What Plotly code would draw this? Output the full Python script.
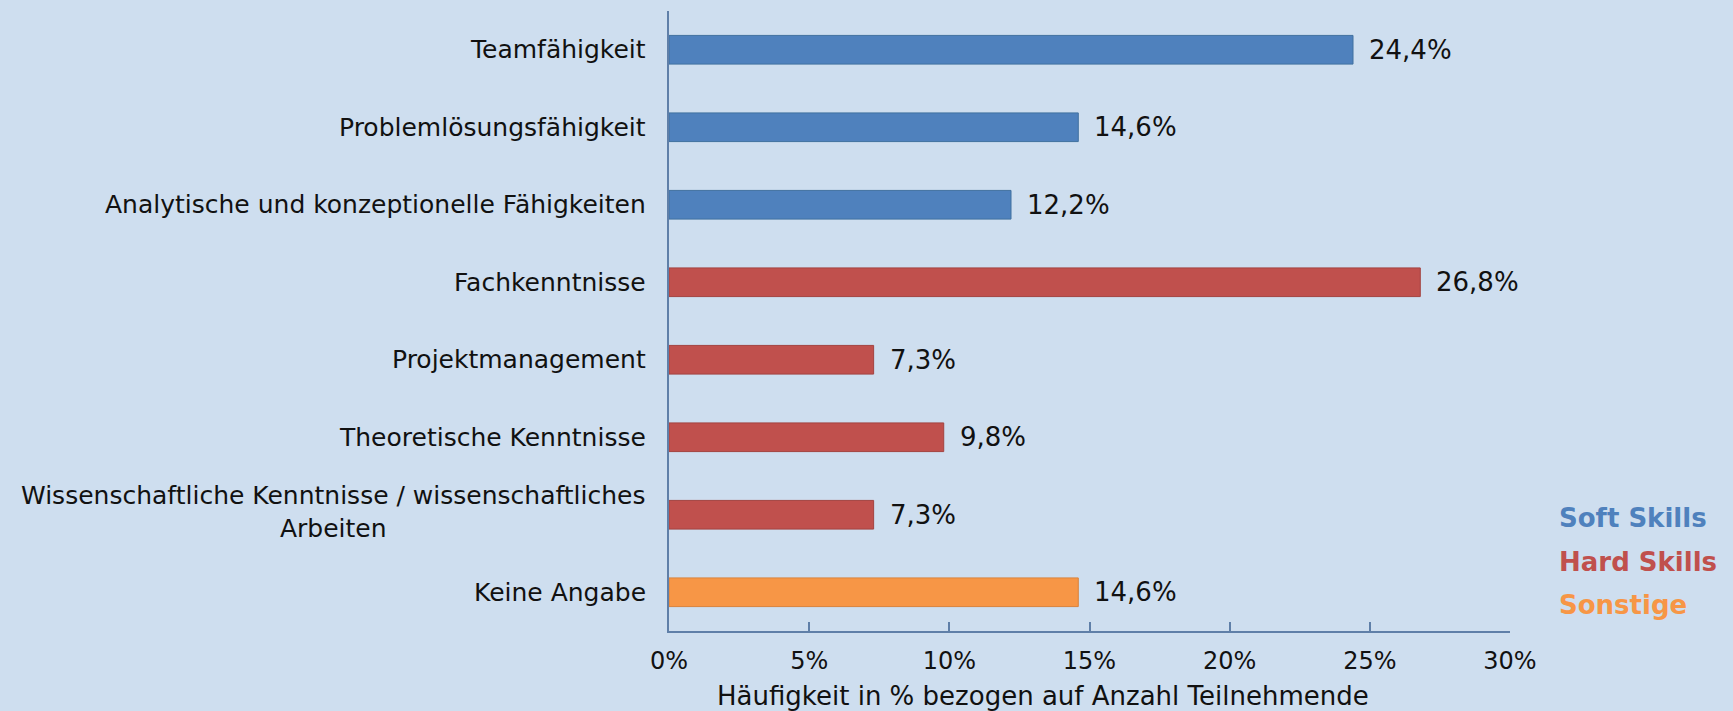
import plotly.graph_objects as go

categories = [
    "Teamfähigkeit",
    "Problemlösungsfähigkeit",
    "Analytische und konzeptionelle Fähigkeiten",
    "Fachkenntnisse",
    "Projektmanagement",
    "Theoretische Kenntnisse",
    "Wissenschaftliche Kenntnisse / wissenschaftliches<br>Arbeiten",
    "Keine Angabe",
]
values = [24.4, 14.6, 12.2, 26.8, 7.3, 9.8, 7.3, 14.6]
groups = ["Soft Skills", "Soft Skills", "Soft Skills",
          "Hard Skills", "Hard Skills", "Hard Skills", "Hard Skills",
          "Sonstige"]
group_names = ["Soft Skills", "Hard Skills", "Sonstige"]
group_colors = {"Soft Skills": "#4F81BD", "Hard Skills": "#C0504D", "Sonstige": "#F79646"}
group_lines = {"Soft Skills": "#41719F", "Hard Skills": "#A34340", "Sonstige": "#D9823C"}
x_ticks = [0, 5, 10, 15, 20, 25, 30]
x_ticktext = ["0%", "5%", "10%", "15%", "20%", "25%", "30%"]
x_title = "Häufigkeit in % bezogen auf Anzahl Teilnehmende"

BG = "#CEDEEF"
AXIS = "#5F7FA8"
FONT = "DejaVu Sans"

W, H = 1733, 711
L, R, T, B = 669, 1510, 11, 631


def px(xp):
    return (xp - L) / (R - L)


def py(yp):
    return (B - yp) / (B - T)


fig = go.Figure()
for g in group_names:
    ys = [c for c, gg in zip(categories, groups) if gg == g]
    xs = [v for v, gg in zip(values, groups) if gg == g]
    fig.add_trace(go.Bar(
        x=xs, y=ys, orientation="h", name=g,
        marker=dict(color=group_colors[g], line=dict(color=group_lines[g], width=1)),
        width=0.37, showlegend=False, hoverinfo="skip",
    ))

# value labels
for c, v in zip(categories, values):
    fig.add_annotation(
        x=v, y=c, xref="x", yref="y", text=f"{v:.1f}%".replace(".", ","),
        showarrow=False, xanchor="left", xshift=14,
        font=dict(family=FONT, size=26, color="#111111"),
    )

# category labels
for c in categories:
    multi = "<br>" in c
    fig.add_annotation(
        x=0, y=c, xref="x", yref="y", text=c, showarrow=False,
        xanchor="right", xshift=-21, yshift=3 if multi else 0, align="center",
        font=dict(family=FONT, size=25, color="#111111"),
    )

# legend-like group labels
for i, g in enumerate(group_names):
    fig.add_annotation(
        x=px(1557), y=py(518 + 43.5 * i), xref="paper", yref="paper",
        text=f"<b>{g}</b>", showarrow=False, xanchor="left", yanchor="middle",
        font=dict(family=FONT, size=26, color=group_colors[g]),
    )

# axis title
fig.add_annotation(
    x=px(1043), y=py(696), xref="paper", yref="paper",
    text=x_title, showarrow=False, xanchor="center", yanchor="middle",
    font=dict(family=FONT, size=26, color="#111111"),
)

fig.update_layout(
    width=W, height=H,
    paper_bgcolor=BG, plot_bgcolor=BG,
    margin=dict(l=L, r=W - R, t=T, b=H - B, autoexpand=False),
    bargap=0.6,
    xaxis=dict(
        range=[0, 30], tickmode="array", tickvals=x_ticks, ticktext=x_ticktext,
        showgrid=False, zeroline=False, showline=True, linecolor=AXIS, linewidth=2,
        ticks="inside", ticklen=9, tickcolor=AXIS, tickwidth=1.5,
        tickfont=dict(family=FONT, size=24, color="#111111"),
        ticklabelstandoff=7, fixedrange=True,
    ),
    yaxis=dict(
        categoryorder="array", categoryarray=categories, autorange="reversed",
        showticklabels=False, showgrid=False, zeroline=False,
        showline=True, linecolor=AXIS, linewidth=2, ticks="", fixedrange=True,
    ),
)

fig.write_html(
    "out.html",
    config={"displayModeBar": False},
    post_script="document.body.style.margin='0';document.body.style.background='" + BG + "';",
)
